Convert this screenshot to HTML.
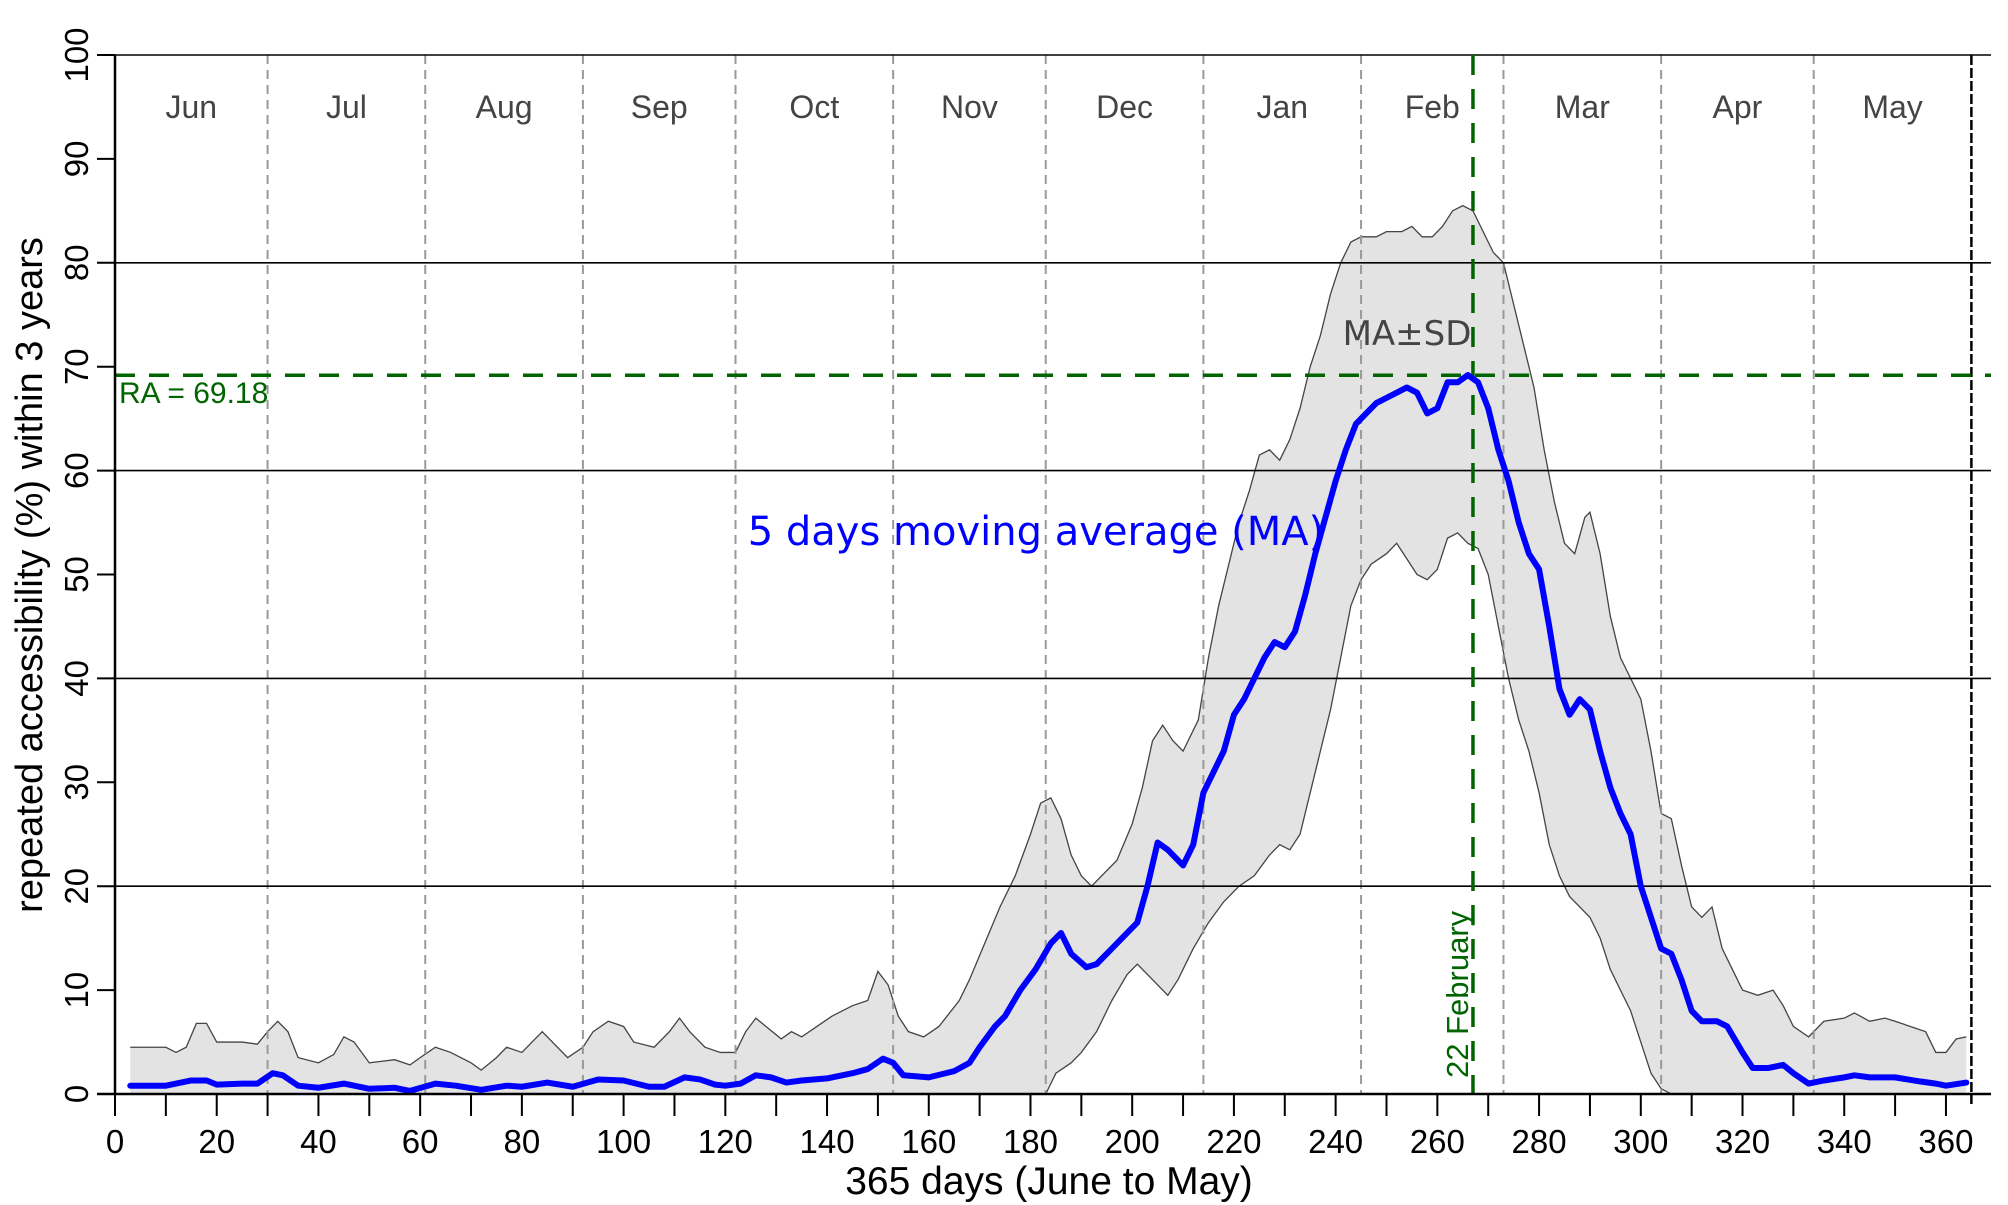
<!DOCTYPE html>
<html><head><meta charset="utf-8"><style>
html,body{margin:0;padding:0;background:#fff}
svg{display:block;font-family:"Liberation Sans",sans-serif}
</style></head><body>
<svg id="chart" width="2008" height="1205" viewBox="0 0 2008 1205" xmlns="http://www.w3.org/2000/svg"></svg>
<script>
const maDays=[3,10,15,18,20,25,28,31,33,36,40,45,50,55,58,63,67,72,77,80,85,90,95,100,105,108,112,115,118,120,123,126,129,132,135,140,145,148,151,153,155,160,165,168,170,173,175,178,181,184,186,188,191,193,196,199,201,203,205,207,209,210,212,214,216,218,220,222,224,226,228,230,232,234,236,238,240,242,244,246,248,250,252,254,256,258,260,262,264,266,268,270,272,274,276,278,280,282,284,286,288,290,292,294,296,298,300,302,304,306,308,310,312,315,317,320,322,325,328,330,333,336,340,342,345,350,355,358,360,364];
const maValues=[0.8,0.8,1.3,1.3,0.9,1,1,2,1.8,0.8,0.6,1,0.5,0.6,0.3,1,0.8,0.4,0.8,0.7,1.1,0.7,1.4,1.3,0.7,0.7,1.6,1.4,0.9,0.8,1,1.8,1.6,1.1,1.3,1.5,2,2.4,3.4,3,1.8,1.6,2.2,3,4.5,6.5,7.5,10,12,14.5,15.5,13.5,12.2,12.5,14,15.5,16.5,20,24.2,23.5,22.5,22,24,29,31,33,36.5,38,40,42,43.5,43,44.5,48,52,55.5,59,62,64.5,65.5,66.5,67,67.5,68,67.5,65.5,66,68.5,68.5,69.2,68.5,66,62,59,55,52,50.5,45,39,36.5,38,37,33,29.5,27,25,20,17,14,13.5,11,8,7,7,6.5,4,2.5,2.5,2.8,2,1,1.3,1.6,1.8,1.6,1.6,1.2,1,0.8,1.1];
const upDays=[3,10,12,14,16,18,20,25,28,30,32,34,36,40,43,45,47,50,55,58,60,63,66,70,72,75,77,80,84,86,89,92,94,97,100,102,106,109,111,113,116,119,122,124,126,128,131,133,135,138,141,145,148,150,152,154,156,159,162,166,168,171,174,177,180,182,184,186,188,190,192,194,197,200,202,204,206,208,210,213,215,217,219,221,223,225,227,229,231,233,235,237,239,241,243,245,248,250,253,255,257,259,261,263,265,267,269,271,273,275,277,279,281,283,285,287,289,290,292,294,296,298,300,302,304,306,308,310,312,314,316,318,320,323,326,328,330,333,336,340,342,345,348,350,353,356,358,360,362,364];
const upValues=[4.5,4.5,4,4.5,6.8,6.8,5,5,4.8,6,7,6,3.5,3,3.8,5.5,5,3,3.3,2.8,3.5,4.5,4,3,2.3,3.5,4.5,4,6,5,3.5,4.5,6,7,6.5,5,4.5,6,7.3,6,4.5,4,4,6,7.3,6.5,5.3,6,5.5,6.5,7.5,8.5,9,11.8,10.5,7.5,6,5.5,6.5,9,11,14.5,18,21,25,28,28.5,26.5,23,21,20,21,22.5,26,29.5,34,35.5,34,33,36,42,47,51,55,58,61.5,62,61,63,66,70,73,77,80,82,82.5,82.5,83,83,83.5,82.5,82.5,83.5,85,85.5,85,83,81,80,76,72,68,62,57,53,52,55.5,56,52,46,42,40,38,33,27,26.5,22,18,17,18,14,12,10,9.5,10,8.5,6.5,5.5,7,7.3,7.8,7,7.3,7,6.5,6,4,4,5.3,5.5];
const loDays=[3,180,183,185,188,190,193,196,199,201,204,207,209,212,215,218,221,224,227,229,231,233,235,237,239,241,243,245,247,250,252,254,256,258,260,262,264,266,268,270,272,274,276,278,280,282,284,286,288,290,292,294,296,298,300,302,304,306,364];
const loValues=[0,0,0,2,3,4,6,9,11.5,12.5,11,9.5,11,14,16.5,18.5,20,21,23,24,23.5,25,29,33,37,42,47,49.5,51,52,53,51.5,50,49.5,50.5,53.5,54,53,52.5,50,45,40,36,33,29,24,21,19,18,17,15,12,10,8,5,2,0.5,0,0];
const yTicks=[0,10,20,30,40,50,60,70,80,90,100];
const xTicks=[0,20,40,60,80,100,120,140,160,180,200,220,240,260,280,300,320,340,360];
const monthNames=["Jun","Jul","Aug","Sep","Oct","Nov","Dec","Jan","Feb","Mar","Apr","May"];
const monthStarts=[0,30,61,92,122,153,183,214,245,273,304,334,365];
const raValue=69.18, peakDay=267;

const NS="http://www.w3.org/2000/svg";
const svg=document.getElementById('chart');
const X0=115,XS=5.086,Y0=1094,YS=10.39;
const sx=d=>X0+d*XS, sy=v=>Y0-v*YS;
function mk(tag,attrs,parent){const e=document.createElementNS(NS,tag);for(const k in attrs)e.setAttribute(k,attrs[k]);(parent||svg).appendChild(e);return e;}

let pts=upDays.map((d,i)=>sx(d)+','+sy(upValues[i]));
for(let i=loDays.length-1;i>=0;i--)pts.push(sx(loDays[i])+','+sy(loValues[i]));
const band=mk('polygon',{points:pts.join(' '),fill:'#e3e3e3',stroke:'none'});


const up=mk('polyline',{points:upDays.map((d,i)=>sx(d)+','+sy(upValues[i])).join(' '),fill:'none',stroke:'#444','stroke-width':1.3});


const lo=mk('polyline',{points:loDays.map((d,i)=>sx(d)+','+sy(loValues[i])).join(' '),fill:'none',stroke:'#444','stroke-width':1.3});



for(let i=1;i<monthStarts.length-1;i++){
  const l=mk('line',{x1:sx(monthStarts[i]),x2:sx(monthStarts[i]),y1:55,y2:Y0,stroke:'#999','stroke-width':2,'stroke-dasharray':'9,6'});
  
  
}
for(let i=0;i<monthNames.length;i++){
  const t=mk('text',{x:sx((monthStarts[i]+monthStarts[i+1])/2),y:118,'font-size':32,fill:'#444','text-anchor':'middle'});
  t.textContent=monthNames[i];
  
  
}
[20,40,60,80,100].forEach(v=>{
  const l=mk('line',{x1:X0,x2:1991,y1:sy(v),y2:sy(v),stroke:'#000','stroke-width':1.6});
  
  
});
const endl=mk('line',{x1:sx(365),x2:sx(365),y1:55,y2:Y0+10,stroke:'#000','stroke-width':2.5,'stroke-dasharray':'10,3'});



const raLine=mk('line',{x1:X0,x2:1991,y1:sy(raValue),y2:sy(raValue),stroke:'#006400','stroke-width':3.5,'stroke-dasharray':'20,14'});


const pkLine=mk('line',{x1:sx(peakDay),x2:sx(peakDay),y1:55,y2:Y0,stroke:'#006400','stroke-width':3.5,'stroke-dasharray':'20,14'});



const ma=mk('polyline',{points:maDays.map((d,i)=>sx(d)+','+sy(maValues[i])).join(' '),fill:'none',stroke:'#0000ff','stroke-width':6,'stroke-linejoin':'round','stroke-linecap':'round'});



const ya=mk('line',{x1:X0,x2:X0,y1:55,y2:Y0,stroke:'#000','stroke-width':2.5});


const xa=mk('line',{x1:97,x2:1991,y1:Y0,y2:Y0,stroke:'#000','stroke-width':2.5});


yTicks.forEach(v=>{
  const l=mk('line',{x1:97,x2:X0,y1:sy(v),y2:sy(v),stroke:'#000','stroke-width':2});
  
  
  const t=mk('text',{x:0,y:0,'font-size':33,'text-anchor':'middle',transform:`translate(88,${sy(v)}) rotate(-90)`});
  t.textContent=v;
  
  
});
for(let d=0;d<=360;d+=10){
  const l=mk('line',{x1:sx(d),x2:sx(d),y1:Y0,y2:Y0+22,stroke:'#000','stroke-width':2});
  
  
}
xTicks.forEach(d=>{
  const t=mk('text',{x:sx(d),y:1153,'font-size':33,'text-anchor':'middle'});
  t.textContent=d;
  
  
});
const xt=mk('text',{x:1049,y:1194,'font-size':39,'text-anchor':'middle'});
xt.textContent='365 days (June to May)';


const yt=mk('text',{x:0,y:0,'font-size':38,'text-anchor':'middle',transform:'translate(42,575) rotate(-90)'});
yt.textContent='repeated accessibility (%) within 3 years';



const a1=mk('text',{x:119,y:403,'font-size':30,fill:'#006400'});
a1.textContent='RA = 69.18';


const a2=mk('text',{x:1407,y:345,'font-size':34,fill:'#444','text-anchor':'middle','font-family':'"DejaVu Sans",sans-serif'});
a2.textContent='MA±SD';


const a3=mk('text',{x:1036,y:545,'font-size':40,fill:'#0000ff','text-anchor':'middle','font-family':'"DejaVu Sans",sans-serif'});
a3.textContent='5 days moving average (MA)';


const a4=mk('text',{x:0,y:0,'font-size':31,fill:'#006400','text-anchor':'start',transform:'translate(1468,1078) rotate(-90)'});
a4.textContent='22 February';


</script>
</body></html>
